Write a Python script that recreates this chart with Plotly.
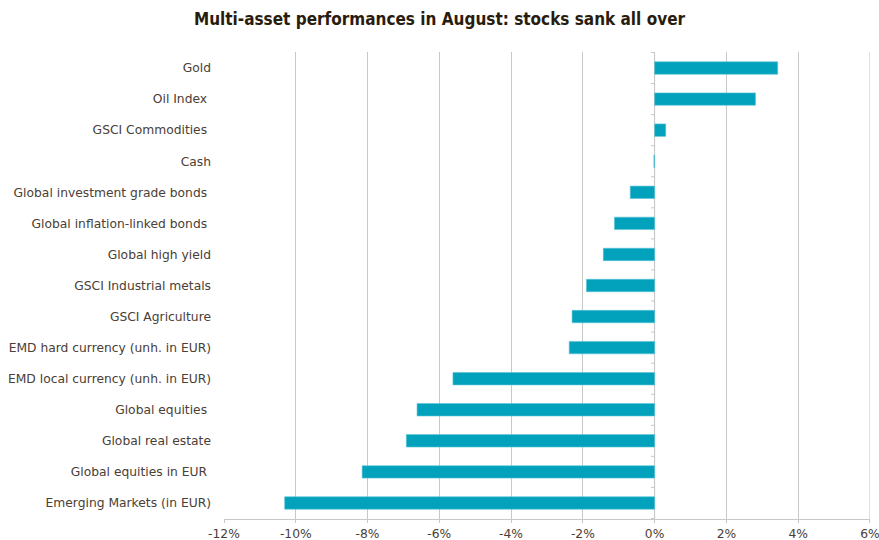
import plotly.graph_objects as go

# Asset classes, listed top to bottom
assets = [
    "Gold",
    "Oil Index ",
    "GSCI Commodities ",
    "Cash",
    "Global investment grade bonds ",
    "Global inflation-linked bonds ",
    "Global high yield",
    "GSCI Industrial metals",
    "GSCI Agriculture",
    "EMD hard currency (unh. in EUR)",
    "EMD local currency (unh. in EUR)",
    "Global equities ",
    "Global real estate",
    "Global equities in EUR ",
    "Emerging Markets (in EUR)",
]

# August performance, in percent
performance = [3.43, 2.81, 0.31, -0.02, -0.68, -1.12, -1.43, -1.90, -2.30, -2.38,
               -5.62, -6.62, -6.92, -8.15, -10.31]

x_ticks = [-12, -10, -8, -6, -4, -2, 0, 2, 4, 6]
x_tick_labels = [f"{v}%" for v in x_ticks]
x_min, x_max = -12, 6

bar_color = "#02a2bd"
grid_color = "#c8c8c8"
label_color = "#4a4036"
label_font = dict(family="DejaVu Sans, Verdana, sans-serif", size=12.3, color=label_color)

fig = go.Figure(
    go.Bar(
        x=performance,
        y=assets,
        orientation="h",
        width=0.4,
        marker=dict(color=bar_color, line=dict(color="#5cc3d6", width=0.6)),
        hoverinfo="x+y",
    )
)

n = len(assets)
shapes = []
# small tick marks on the zero line between categories
for i in range(n + 1):
    shapes.append(dict(
        type="line", xref="x", yref="y",
        x0=-0.1, x1=0, y0=i - 0.5, y1=i - 0.5,
        line=dict(color=grid_color, width=1),
    ))
# zero line
shapes.append(dict(
    type="line", xref="x", yref="y",
    x0=0, x1=0, y0=-0.5, y1=n - 0.5,
    line=dict(color=grid_color, width=1),
    layer="below",
))
# gridline on the right edge of the plot
shapes.append(dict(
    type="line", xref="x", yref="paper",
    x0=x_max, x1=x_max, y0=0, y1=1,
    line=dict(color=grid_color, width=1),
    layer="below",
))

fig.update_layout(
    width=879,
    height=540,
    margin=dict(l=224, r=9, t=52, b=21),
    paper_bgcolor="white",
    plot_bgcolor="white",
    showlegend=False,
    shapes=shapes,
    title=dict(
        text="Multi-asset performances in August: stocks sank all over",
        x=0.5,
        xanchor="center",
        y=0.965,
        yanchor="middle",
        font=dict(family="DejaVu Sans Condensed, sans-serif",
                  size=17, color="#2a1c0c", weight="bold"),
    ),
    xaxis=dict(
        range=[x_min, x_max + 0.002],
        tickvals=x_ticks,
        ticktext=x_tick_labels,
        showgrid=True,
        gridcolor=grid_color,
        gridwidth=1,
        zeroline=False,
        showline=True,
        linecolor=grid_color,
        linewidth=1,
        ticks="outside",
        ticklen=3,
        tickcolor=grid_color,
        tickfont=label_font,
        ticklabeloverflow="allow",
        automargin=False,
        fixedrange=True,
    ),
    yaxis=dict(
        autorange="reversed",
        showgrid=False,
        showline=False,
        zeroline=False,
        ticks="",
        ticklabelstandoff=12,
        tickfont=label_font,
        automargin=False,
        fixedrange=True,
    ),
)

fig.write_html("out.html")
